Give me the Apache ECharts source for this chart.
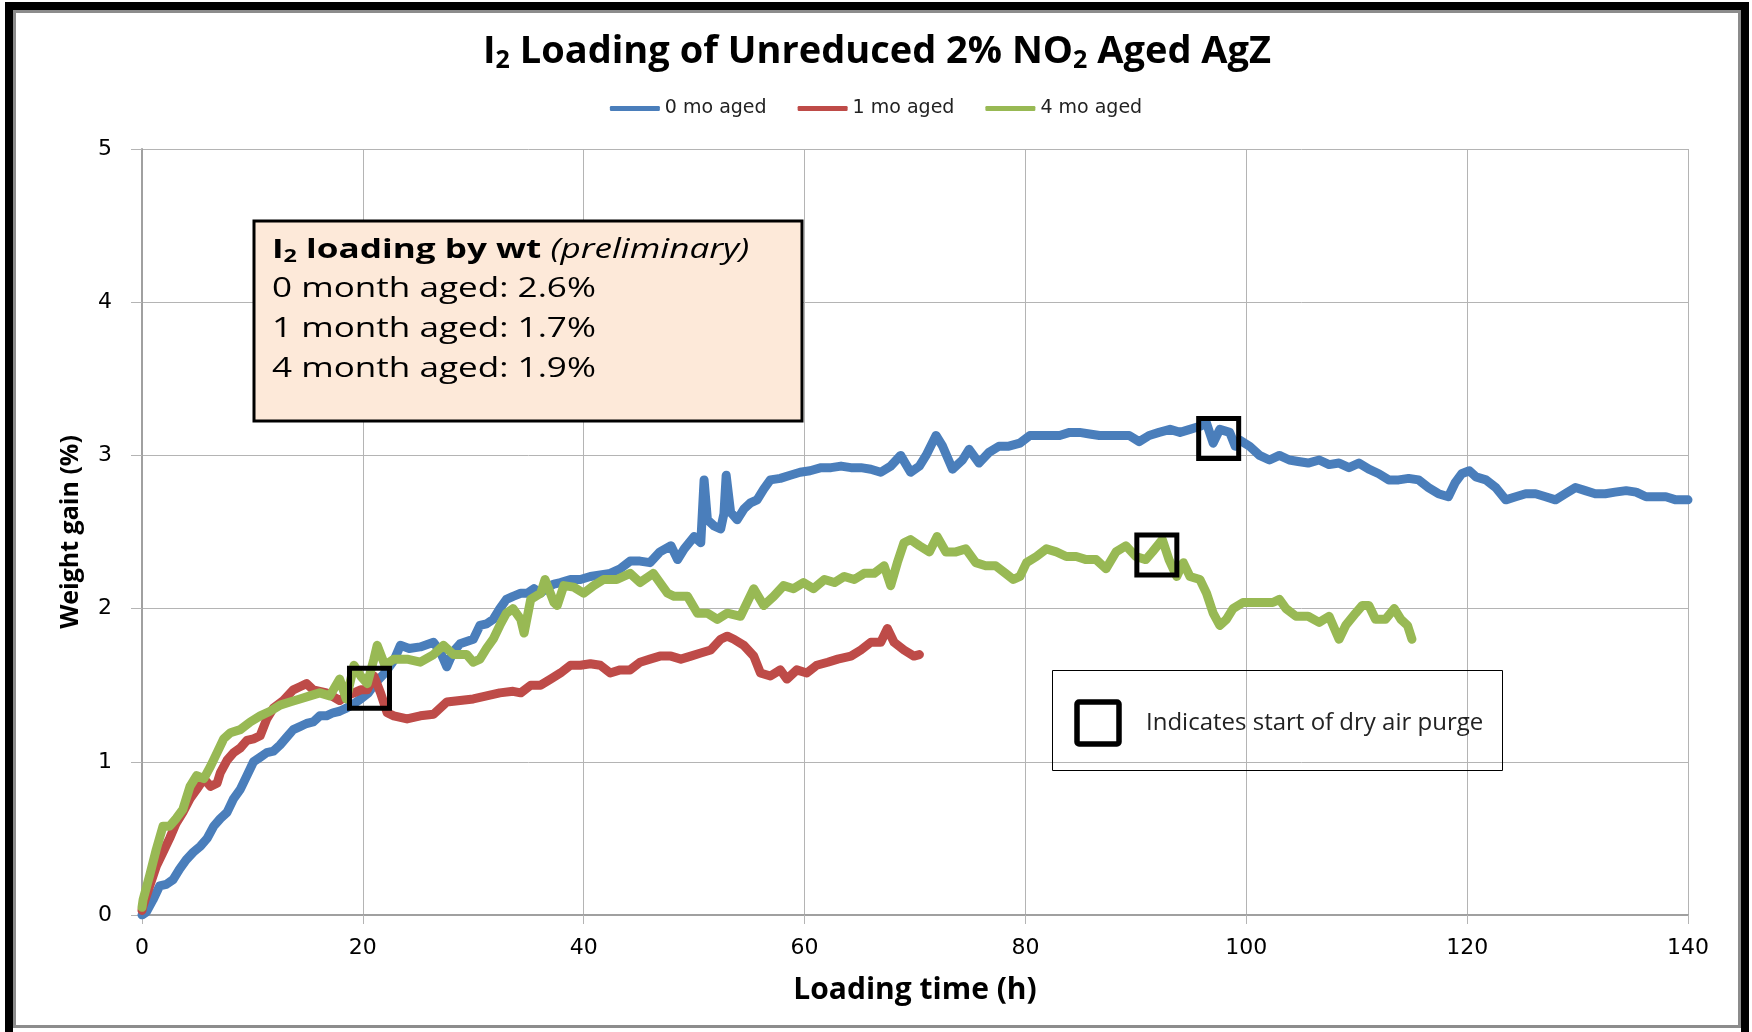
<!DOCTYPE html>
<html>
<head>
<meta charset="utf-8">
<title>I2 Loading of Unreduced 2% NO2 Aged AgZ</title>
<script src="https://cdn.jsdelivr.net/npm/echarts@6/dist/echarts.min.js"></script>
<style>
  html, body { margin: 0; padding: 0; background: #fff; }
  #chart { width: 1752px; height: 1032px; }
</style>
</head>
<body>
<div id="chart"></div>
<script>
// series names (legend)
var seriesNames = ['0 mo aged', '1 mo aged', '4 mo aged'];

// [loading time (h), weight gain (%)]
var aged0mo = [
  [0,0],[0.4,0.02],[1.0,0.1],[1.6,0.19],[2.2,0.2],[2.8,0.23],[3.4,0.3],[4.0,0.36],[4.65,0.41],[5.3,0.45],
  [5.9,0.5],[6.5,0.58],[7.1,0.63],[7.7,0.67],[8.3,0.76],[8.9,0.82],[9.5,0.91],[10.1,1.0],[10.7,1.03],[11.3,1.06],
  [11.9,1.07],[12.5,1.11],[13.1,1.16],[13.7,1.21],[14.3,1.23],[14.9,1.25],[15.5,1.26],[16.1,1.3],[16.7,1.3],[17.3,1.32],
  [17.9,1.33],[18.5,1.35],[19.2,1.38],[19.8,1.41],[20.5,1.45],[21.2,1.52],[22.0,1.58],[22.8,1.66],[23.4,1.76],[24.2,1.74],
  [25.2,1.75],[26.4,1.78],[27.0,1.72],[27.6,1.62],[28.2,1.72],[28.8,1.77],[30.0,1.8],[30.6,1.89],[31.2,1.9],[31.8,1.93],
  [32.4,2.0],[33.0,2.06],[33.6,2.08],[34.3,2.1],[34.9,2.1],[35.5,2.13],[36.1,2.1],[36.7,2.14],[37.3,2.16],[37.9,2.17],
  [38.8,2.19],[39.7,2.19],[40.6,2.21],[41.5,2.22],[42.4,2.23],[43.3,2.26],[44.2,2.31],[45.1,2.31],[46.0,2.3],[46.9,2.37],
  [47.9,2.41],[48.5,2.32],[49.1,2.39],[50.0,2.47],[50.6,2.43],[50.9,2.84],[51.2,2.58],[51.8,2.54],[52.4,2.52],[52.7,2.62],
  [52.9,2.87],[53.3,2.63],[53.9,2.58],[54.5,2.65],[55.1,2.69],[55.7,2.71],[56.3,2.78],[56.9,2.84],[57.8,2.85],[58.7,2.87],
  [59.6,2.89],[60.5,2.9],[61.5,2.92],[62.4,2.92],[63.3,2.93],[64.2,2.92],[65.1,2.92],[66.0,2.91],[66.9,2.89],[67.8,2.93],
  [68.7,3.0],[69.6,2.89],[70.4,2.93],[71.0,3.0],[71.9,3.13],[72.5,3.06],[73.4,2.91],[74.3,2.97],[74.9,3.04],[75.8,2.95],
  [76.7,3.02],[77.6,3.06],[78.5,3.06],[79.5,3.08],[80.4,3.13],[81.3,3.13],[82.2,3.13],[83.1,3.13],[84.0,3.15],[84.9,3.15],
  [85.8,3.14],[86.7,3.13],[87.6,3.13],[88.5,3.13],[89.4,3.13],[90.3,3.09],[91.2,3.13],[92.1,3.15],[93.1,3.17],[94.0,3.15],
  [94.9,3.17],[95.8,3.19],[96.4,3.21],[97.0,3.08],[97.6,3.17],[98.5,3.15],[99.0,3.06],[99.4,3.1],[100.3,3.06],[101.2,3.0],
  [102.1,2.97],[103.0,3.0],[103.9,2.97],[104.7,2.96],[105.6,2.95],[106.6,2.97],[107.5,2.94],[108.4,2.95],[109.3,2.92],[110.2,2.95],
  [111.1,2.91],[112.0,2.88],[112.9,2.84],[113.8,2.84],[114.7,2.85],[115.6,2.84],[116.5,2.79],[117.4,2.75],[118.3,2.73],[118.9,2.82],
  [119.5,2.88],[120.2,2.9],[120.8,2.86],[121.7,2.84],[122.6,2.79],[123.5,2.71],[124.4,2.73],[125.3,2.75],[126.2,2.75],[127.1,2.73],
  [128.0,2.71],[128.9,2.75],[129.8,2.79],[130.7,2.77],[131.6,2.75],[132.5,2.75],[133.4,2.76],[134.4,2.77],[135.3,2.76],[136.2,2.73],
  [137.1,2.73],[138.0,2.73],[138.9,2.71],[140.0,2.71]
];

var aged1mo = [
  [0,0.03],[0.1,0.06],[0.7,0.19],[1.3,0.32],[1.9,0.41],[2.5,0.5],[3.1,0.6],[3.7,0.67],[4.35,0.76],[4.95,0.82],
  [5.6,0.89],[6.2,0.84],[6.8,0.86],[7.1,0.93],[7.7,1.01],[8.3,1.06],[8.9,1.09],[9.5,1.14],[10.1,1.15],[10.7,1.17],
  [11.3,1.28],[11.9,1.35],[12.8,1.4],[13.7,1.47],[14.3,1.49],[14.9,1.51],[15.5,1.47],[16.7,1.45],[17.9,1.4],[18.5,1.43],
  [19.2,1.45],[19.8,1.47],[20.4,1.47],[21.0,1.56],[21.6,1.45],[22.2,1.32],[22.8,1.3],[24.0,1.28],[25.2,1.3],[26.4,1.31],
  [27.6,1.39],[28.8,1.4],[30.0,1.41],[31.2,1.43],[32.4,1.45],[33.6,1.46],[34.3,1.45],[35.2,1.5],[36.1,1.5],[37.0,1.54],
  [37.9,1.58],[38.8,1.63],[39.7,1.63],[40.6,1.64],[41.5,1.63],[42.4,1.58],[43.3,1.6],[44.2,1.6],[45.1,1.65],[46.0,1.67],
  [46.9,1.69],[47.9,1.69],[48.8,1.67],[49.7,1.69],[50.6,1.71],[51.5,1.73],[52.4,1.8],[53.0,1.82],[53.6,1.8],[54.5,1.76],
  [55.4,1.69],[56.0,1.58],[56.9,1.56],[57.8,1.6],[58.4,1.54],[59.3,1.6],[60.2,1.58],[61.1,1.63],[62.1,1.65],[63.0,1.67],
  [64.2,1.69],[65.1,1.73],[66.0,1.78],[66.9,1.78],[67.5,1.87],[68.1,1.78],[69.0,1.73],[69.9,1.69],[70.4,1.7]
];

var aged4mo = [
  [0,0.05],[0.1,0.1],[0.7,0.26],[1.3,0.43],[1.9,0.58],[2.5,0.58],[3.1,0.63],[3.7,0.69],[4.35,0.84],[4.95,0.91],
  [5.6,0.89],[6.2,0.97],[6.8,1.06],[7.4,1.15],[8.0,1.19],[8.9,1.21],[9.8,1.26],[10.7,1.3],[11.6,1.33],[12.5,1.37],
  [13.4,1.39],[14.3,1.41],[15.2,1.43],[16.1,1.45],[17.0,1.43],[17.9,1.54],[18.5,1.41],[19.2,1.63],[19.8,1.56],[20.4,1.51],
  [21.0,1.67],[21.3,1.76],[22.0,1.63],[22.8,1.67],[24.0,1.67],[25.2,1.65],[26.4,1.7],[27.3,1.76],[28.2,1.7],[29.4,1.7],
  [30.0,1.65],[30.6,1.67],[31.2,1.74],[31.8,1.8],[32.4,1.89],[33.0,1.97],[33.6,2.0],[34.3,1.93],[34.6,1.84],[35.2,2.06],
  [36.1,2.1],[36.5,2.19],[37.3,2.04],[37.6,2.02],[38.2,2.15],[39.1,2.14],[40.0,2.1],[40.9,2.15],[41.8,2.19],[43.0,2.19],
  [44.2,2.23],[45.1,2.17],[46.3,2.23],[46.9,2.17],[47.6,2.1],[48.2,2.08],[49.4,2.08],[50.3,1.97],[51.2,1.97],[52.1,1.93],
  [53.0,1.97],[54.2,1.95],[54.8,2.04],[55.4,2.13],[56.3,2.02],[57.2,2.08],[58.1,2.15],[59.0,2.13],[59.9,2.17],[60.8,2.13],
  [61.8,2.19],[62.7,2.17],[63.6,2.21],[64.5,2.19],[65.4,2.23],[66.3,2.23],[67.2,2.28],[67.8,2.15],[68.4,2.3],[69.0,2.43],
  [69.6,2.45],[70.4,2.41],[71.3,2.37],[72.0,2.47],[72.8,2.37],[73.7,2.37],[74.6,2.39],[75.5,2.3],[76.4,2.28],[77.3,2.28],
  [78.2,2.23],[78.9,2.19],[79.5,2.21],[80.1,2.3],[81.0,2.34],[81.9,2.39],[82.8,2.37],[83.7,2.34],[84.6,2.34],[85.5,2.32],
  [86.4,2.32],[87.3,2.26],[88.2,2.37],[89.1,2.41],[90.0,2.34],[90.9,2.32],[91.5,2.37],[92.4,2.45],[93.0,2.32],[93.7,2.21],
  [94.3,2.3],[94.9,2.21],[95.8,2.19],[96.4,2.1],[97.0,1.97],[97.6,1.89],[98.2,1.93],[98.8,2.0],[99.7,2.04],[100.6,2.04],
  [101.5,2.04],[102.4,2.04],[103.0,2.06],[103.6,2.0],[104.5,1.95],[105.6,1.95],[106.6,1.91],[107.5,1.95],[108.4,1.8],[109.0,1.89],
  [109.9,1.97],[110.5,2.02],[111.1,2.02],[111.7,1.93],[112.6,1.93],[113.4,2.0],[114.0,1.93],[114.6,1.89],[115.0,1.8]
];

// start of dry air purge (h, %)
var purgeStarts = [[20.6, 1.48], [91.9, 2.35], [97.5, 3.11]];

// note box text
var noteLines = ['0 month aged: 2.6%', '1 month aged: 1.7%', '4 month aged: 1.9%'];

var colors = ['#4a7ebb', '#be4b48', '#98b954'];
var gridColor = '#b4b4b4';

var chart = echarts.init(document.getElementById('chart'));

function lineSeries (name, data, color) {
  return {
    name: name,
    type: 'line',
    data: data,
    showSymbol: false,
    color: color,
    lineStyle: { width: 9, color: color, join: 'round', cap: 'round' },
    emphasis: { disabled: true },
    z: 3
  };
}

var option = {
  animation: false,
  backgroundColor: '#fff',
  color: colors,
  grid: { left: 142, right: 64, top: 149, bottom: 117 },
  legend: {
    data: seriesNames,
    top: 94,
    left: 'center',
    icon: 'roundRect',
    itemWidth: 50,
    itemHeight: 5,
    itemGap: 31,
    textStyle: { fontFamily: 'DejaVu Sans', fontSize: 19, color: '#222' }
  },
  xAxis: {
    type: 'value',
    min: 0, max: 140, interval: 20,
    name: 'Loading time (h)',
    nameLocation: 'middle',
    nameGap: 60,
    nameTextStyle: { fontFamily: 'Open Sans', fontWeight: 'bold', fontSize: 30, color: '#000' },
    axisLine: { lineStyle: { color: '#a0a0a0', width: 2 } },
    axisTick: { show: true, length: 9, lineStyle: { color: gridColor } },
    axisLabel: { margin: 22, fontFamily: 'DejaVu Sans', fontSize: 22, color: '#000' },
    splitLine: { show: true, lineStyle: { color: gridColor, width: 1 } }
  },
  yAxis: {
    type: 'value',
    min: 0, max: 5, interval: 1,
    name: 'Weight gain (%)',
    nameLocation: 'middle',
    nameGap: 59,
    nameTextStyle: { fontFamily: 'Open Sans', fontWeight: 'bold', fontSize: 25, color: '#000' },
    axisLine: { show: true, lineStyle: { color: '#a0a0a0', width: 2 } },
    axisTick: { show: true, length: 11, lineStyle: { color: gridColor } },
    axisLabel: { margin: 30, fontFamily: 'DejaVu Sans', fontSize: 22, color: '#000' },
    splitLine: { show: true, lineStyle: { color: gridColor, width: 1 } }
  },
  series: [
    lineSeries(seriesNames[0], aged0mo, colors[0]),
    lineSeries(seriesNames[1], aged1mo, colors[1]),
    lineSeries(seriesNames[2], aged4mo, colors[2]),
    {
      name: 'purge',
      type: 'scatter',
      data: purgeStarts,
      symbol: 'rect',
      symbolSize: 40,
      itemStyle: { color: 'rgba(0,0,0,0)', borderColor: '#000', borderWidth: 5, opacity: 1 },
      emphasis: { disabled: true },
      z: 10
    }
  ],
  graphic: [
    // outer frame
    { type: 'rect', silent: true, z: 200,
      shape: { x: 9, y: 6, width: 1736, height: 1030 },
      style: { fill: null, stroke: '#000', lineWidth: 8 } },
    { type: 'rect', silent: true, z: 200,
      shape: { x: 14.5, y: 11.5, width: 1725, height: 1015 },
      style: { fill: null, stroke: '#8c8c8c', lineWidth: 3 } },
    // title
    { type: 'text', silent: true, z: 100, x: 877, y: 52,
      style: {
        text: '{t|I}{s|2}{t| Loading of Unreduced 2% NO}{s|2}{t| Aged AgZ}',
        align: 'center', verticalAlign: 'middle',
        rich: {
          t: { fontFamily: 'Open Sans', fontWeight: 'bold', fontSize: 38, fill: '#000' },
          s: { fontFamily: 'Open Sans', fontWeight: 'bold', fontSize: 25, fill: '#000', padding: [18, 0, 0, 0] }
        }
      } },
    // note box
    { type: 'rect', silent: true, z: 100,
      shape: { x: 254, y: 221, width: 548, height: 200 },
      style: { fill: '#fde9d9', stroke: '#000', lineWidth: 3 } },
    { type: 'text', silent: true, z: 101, x: 272, y: 250, scaleX: 1.3,
      style: {
        text: '{b|I}{bs|2}{b| loading by wt }{i|(preliminary)}',
        verticalAlign: 'middle',
        rich: {
          b: { fontFamily: 'Open Sans', fontWeight: 'bold', fontSize: 27, fill: '#000' },
          bs: { fontFamily: 'Open Sans', fontWeight: 'bold', fontSize: 18, fill: '#000', padding: [14, 0, 0, 0] },
          i: { fontFamily: 'Open Sans', fontStyle: 'italic', fontSize: 27, fill: '#000' }
        }
      } },
    { type: 'text', silent: true, z: 101, x: 272, y: 289, scaleX: 1.3,
      style: { text: noteLines[0], verticalAlign: 'middle', font: '27px "Open Sans"', fill: '#000' } },
    { type: 'text', silent: true, z: 101, x: 272, y: 329, scaleX: 1.3,
      style: { text: noteLines[1], verticalAlign: 'middle', font: '27px "Open Sans"', fill: '#000' } },
    { type: 'text', silent: true, z: 101, x: 272, y: 369, scaleX: 1.3,
      style: { text: noteLines[2], verticalAlign: 'middle', font: '27px "Open Sans"', fill: '#000' } },
    // purge key box
    { type: 'rect', silent: true, z: 100,
      shape: { x: 1052.5, y: 670.5, width: 450, height: 100 },
      style: { fill: null, stroke: '#000', lineWidth: 1 } },
    { type: 'rect', silent: true, z: 100,
      shape: { x: 1077, y: 702, width: 42, height: 42, r: 2 },
      style: { fill: null, stroke: '#000', lineWidth: 5.5 } },
    { type: 'text', silent: true, z: 100, x: 1146, y: 723,
      style: { text: 'Indicates start of dry air purge', verticalAlign: 'middle', font: '24px "Open Sans"', fill: '#222' } }
  ]
};

chart.setOption(option);
</script>
</body>
</html>
